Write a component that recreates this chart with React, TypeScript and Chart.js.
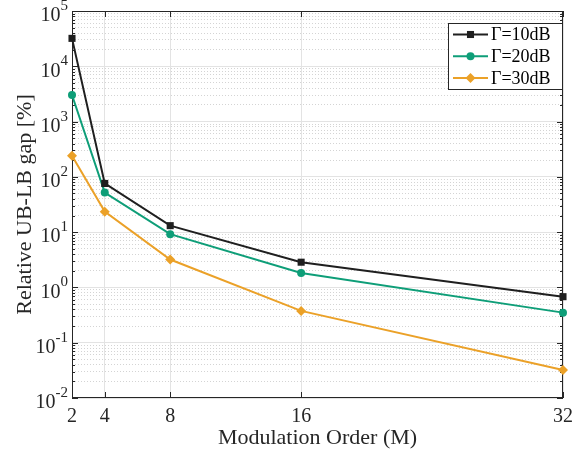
import React, { useEffect, useRef } from "react";
import { Chart, registerables } from "chart.js";

Chart.register(...registerables);

const categories = [2, 4, 8, 16, 32];
const gap10 = [32000, 76, 13.1, 2.86, 0.68];
const gap20 = [3030, 52, 9.2, 1.83, 0.35];
const gap30 = [240, 23.5, 3.2, 0.376, 0.032];
const seriesLabels = ["Γ=10dB", "Γ=20dB", "Γ=30dB"];
const seriesColors = ["#1f1f1f", "#0e9e78", "#eba128"];
const seriesMarkers = ["rect", "circle", "rectRot"];
const markerRadii = [5, 4, 5];
const xTicks = [2, 4, 8, 16, 32];
const yMin = 1e-2;
const yMax = 1e5;
const xTitle = "Modulation Order (M)";
const yTitle = "Relative UB-LB gap [%]";

const FONT = "'Liberation Serif', 'Times New Roman', serif";
const AXIS_COLOR = "#262626";

function yTickValues(): number[] {
  const out: number[] = [];
  const e0 = Math.round(Math.log10(yMin));
  const e1 = Math.round(Math.log10(yMax));
  for (let e = e0; e < e1; e++) {
    for (let m = 1; m <= 9; m++) out.push(m * Math.pow(10, e));
  }
  out.push(yMax);
  return out;
}

function isDecade(v: number): boolean {
  const e = Math.round(Math.log10(v));
  return Math.abs(v - Math.pow(10, e)) / Math.pow(10, e) < 1e-6;
}

function exponentOf(v: number): string {
  return String(Math.round(Math.log10(v)));
}

const innerTicksPlugin = {
  id: "innerTicks",
  beforeDatasetsDraw(chart: any) {
    const { ctx, chartArea, scales } = chart;
    const { left, right, top, bottom } = chartArea;
    ctx.save();
    ctx.strokeStyle = AXIS_COLOR;
    ctx.lineWidth = 1;
    ctx.beginPath();
    for (const v of yTickValues()) {
      const py = Math.round(scales.y.getPixelForValue(v)) + 0.5;
      const len = isDecade(v) ? 6 : 3;
      ctx.moveTo(left, py);
      ctx.lineTo(left + len, py);
      ctx.moveTo(right, py);
      ctx.lineTo(right - len, py);
    }
    for (const v of xTicks) {
      const px = Math.round(scales.x.getPixelForValue(v)) + 0.5;
      ctx.moveTo(px, bottom);
      ctx.lineTo(px, bottom - 6);
      ctx.moveTo(px, top);
      ctx.lineTo(px, top + 6);
    }
    ctx.stroke();
    ctx.strokeRect(Math.round(left) + 0.5, Math.round(top) + 0.5, Math.round(right - left) - 1, Math.round(bottom - top) - 1);
    ctx.restore();
  },
};

const yLabelPlugin = {
  id: "powerLabels",
  afterDraw(chart: any) {
    const { ctx, scales } = chart;
    const yScale = scales.y;
    const rightEdge = yScale.right - 4;
    ctx.save();
    ctx.fillStyle = AXIS_COLOR;
    ctx.textBaseline = "middle";
    ctx.textAlign = "right";
    for (const t of yScale.ticks) {
      const v = t.value;
      if (!isDecade(v)) continue;
      const py = yScale.getPixelForValue(v);
      const exp = exponentOf(v);
      ctx.font = `15px ${FONT}`;
      const ew = ctx.measureText(exp).width;
      ctx.fillText(exp, rightEdge, py - 5);
      ctx.font = `20px ${FONT}`;
      ctx.fillText("10", rightEdge - ew, py + 5);
    }
    ctx.restore();
  },
};

function drawMarker(ctx: CanvasRenderingContext2D, type: string, x: number, y: number, r: number) {
  ctx.beginPath();
  if (type === "rect") {
    const s = Math.SQRT1_2 * r;
    ctx.rect(x - s, y - s, 2 * s, 2 * s);
  } else if (type === "circle") {
    ctx.arc(x, y, r, 0, Math.PI * 2);
  } else {
    ctx.moveTo(x, y - r);
    ctx.lineTo(x + r, y);
    ctx.lineTo(x, y + r);
    ctx.lineTo(x - r, y);
    ctx.closePath();
  }
  ctx.fill();
}

const legendPlugin = {
  id: "boxLegend",
  afterDraw(chart: any) {
    const { ctx, chartArea } = chart;
    const boxRight = chartArea.right - 1;
    const boxLeft = boxRight - 114;
    const boxTop = chartArea.top + 12;
    const rowH = 21.7;
    const boxH = 66;
    ctx.save();
    ctx.fillStyle = "#ffffff";
    ctx.fillRect(boxLeft, boxTop, boxRight - boxLeft, boxH);
    ctx.strokeStyle = AXIS_COLOR;
    ctx.lineWidth = 1;
    ctx.strokeRect(Math.round(boxLeft) + 0.5, Math.round(boxTop) + 0.5, Math.round(boxRight - boxLeft), boxH);
    ctx.font = `18px ${FONT}`;
    ctx.textBaseline = "middle";
    ctx.textAlign = "left";
    seriesLabels.forEach((label, i) => {
      const cy = boxTop + 11.5 + i * rowH;
      const x0 = boxLeft + 5;
      const x1 = boxLeft + 40;
      ctx.strokeStyle = seriesColors[i];
      ctx.lineWidth = 2;
      ctx.beginPath();
      ctx.moveTo(x0, cy);
      ctx.lineTo(x1, cy);
      ctx.stroke();
      ctx.fillStyle = seriesColors[i];
      drawMarker(ctx, seriesMarkers[i], (x0 + x1) / 2, cy, markerRadii[i]);
      ctx.fillStyle = "#000000";
      ctx.fillText(label, x1 + 3, cy + 1);
    });
    ctx.restore();
  },
};

export default function App() {
  const canvasRef = useRef<HTMLCanvasElement | null>(null);

  useEffect(() => {
    document.body.style.margin = "0";
    const canvas = canvasRef.current;
    if (!canvas) return;
    const seriesData = [gap10, gap20, gap30];
    const chart = new Chart(canvas, {
      type: "line",
      data: {
        datasets: seriesData.map((vals, i) => ({
          label: seriesLabels[i],
          data: categories.map((c, j) => ({ x: c, y: vals[j] })),
          borderColor: seriesColors[i],
          backgroundColor: seriesColors[i],
          borderWidth: 2,
          pointStyle: seriesMarkers[i] as any,
          pointRadius: markerRadii[i],
          pointBorderWidth: 0,
          pointBackgroundColor: seriesColors[i],
          tension: 0,
          clip: false as any,
        })),
      },
      options: {
        responsive: false,
        animation: false,
        devicePixelRatio: 1,
        layout: { padding: { top: 11, right: 13, left: 0, bottom: 0 } },
        plugins: {
          legend: { display: false },
          tooltip: { enabled: false },
        },
        scales: {
          x: {
            type: "linear",
            min: 2,
            max: 32,
            afterBuildTicks: (scale: any) => {
              scale.ticks = xTicks.map((v) => ({ value: v }));
            },
            afterFit: (scale: any) => {
              scale.height = 56;
              scale.paddingLeft = 0;
              scale.paddingRight = 0;
            },
            ticks: {
              autoSkip: false,
              maxRotation: 0,
              padding: 9,
              color: AXIS_COLOR,
              font: { family: FONT, size: 20, lineHeight: 1 },
              callback: (v: any) => String(v),
            },
            grid: {
              color: "#e3e3e3",
              lineWidth: 1,
              drawTicks: false,
            },
            border: { display: false },
            title: {
              display: true,
              text: xTitle,
              color: AXIS_COLOR,
              font: { family: FONT, size: 22 },
              padding: { top: 0, bottom: 3 },
            },
          },
          y: {
            type: "logarithmic",
            min: yMin,
            max: yMax,
            afterBuildTicks: (scale: any) => {
              scale.ticks = yTickValues().map((v) => ({ value: v }));
            },
            afterFit: (scale: any) => {
              scale.width = 72;
              scale.paddingTop = 0;
              scale.paddingBottom = 0;
            },
            ticks: {
              display: false,
              autoSkip: false,
            },
            grid: {
              color: (ctx: any) => (ctx.tick && isDecade(ctx.tick.value) ? "#e3e3e3" : "#d4d4d4"),
              lineWidth: 1,
              drawTicks: false,
            },
            border: {
              display: false,
              dash: (ctx: any) => (ctx.tick && !isDecade(ctx.tick.value) ? [1, 2] : []),
            } as any,
            title: {
              display: true,
              text: yTitle,
              color: AXIS_COLOR,
              font: { family: FONT, size: 22 },
              padding: { top: 12, bottom: 0 },
            },
          },
        },
      },
      plugins: [innerTicksPlugin, yLabelPlugin, legendPlugin],
    });
    return () => chart.destroy();
  }, []);

  return (
    <div style={{ width: 576, height: 454 }}>
      <canvas ref={canvasRef} width={576} height={454} style={{ display: "block" }} />
    </div>
  );
}
